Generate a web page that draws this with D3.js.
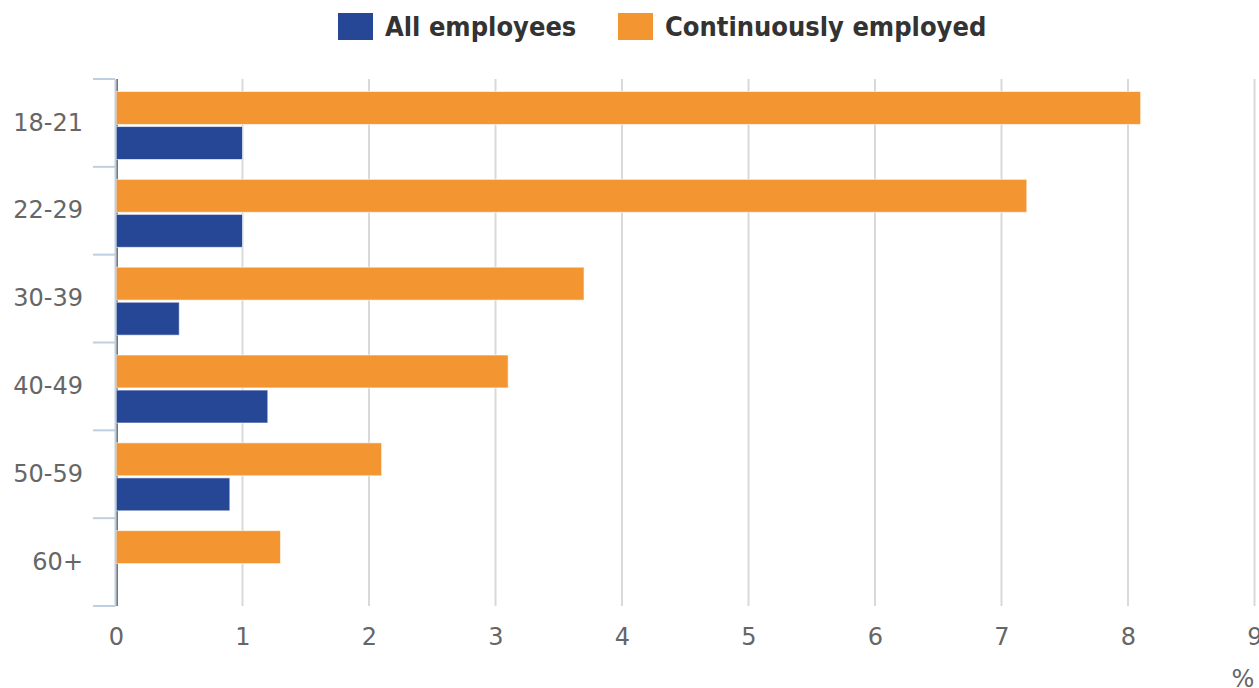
<!DOCTYPE html>
<html>
<head>
<meta charset="utf-8">
<script src="https://cdn.jsdelivr.net/npm/d3@7"></script>
<style>
  html, body { margin: 0; padding: 0; background: #fff; }
  svg { display: block; }
</style>
</head>
<body>
<svg id="chart" width="1259" height="688"></svg>
<script>
// Age groups and percentages per series
const categories = ["18-21", "22-29", "30-39", "40-49", "50-59", "60+"];
const seriesNames = ["Continuously employed", "All employees"];
const continuouslyEmployed = [8.1, 7.2, 3.7, 3.1, 2.1, 1.3];
const allEmployees = [1.0, 1.0, 0.5, 1.2, 0.9, 0];
const xTicks = [0, 1, 2, 3, 4, 5, 6, 7, 8, 9];
const legendItems = ["All employees", "Continuously employed"];

const colors = { "All employees": "#264796", "Continuously employed": "#F39530" };

const svg = d3.select("#chart");
const margin = { top: 79, right: 4, bottom: 82, left: 115 };
const W = 1259, H = 688;
const innerH = H - margin.top - margin.bottom;

const x = d3.scaleLinear().domain([0, 9]).range([margin.left + 1, margin.left + 1 + 126.5 * 9]);
const y = d3.scaleBand().domain(categories).range([margin.top, margin.top + innerH]).paddingInner(0).paddingOuter(0);
const yInner = d3.scaleBand().domain(seriesNames).range([12.5, 80.5]).paddingInner(0.06);

// Vertical gridlines
const grid = svg.append("g");
grid.selectAll("line").data(xTicks.filter(d => d > 0)).join("line")
  .attr("x1", d => x(d)).attr("x2", d => x(d))
  .attr("y1", margin.top).attr("y2", margin.top + innerH)
  .attr("stroke", "#d9d9d9").attr("stroke-width", 2);

// Zero line
svg.append("line")
  .attr("x1", x(0) + 1).attr("x2", x(0) + 1)
  .attr("y1", margin.top).attr("y2", margin.top + innerH)
  .attr("stroke", "#777").attr("stroke-width", 2);

// Bars
const rows = categories.map((c, i) => ({
  cat: c,
  vals: [
    { s: "Continuously employed", v: continuouslyEmployed[i] },
    { s: "All employees", v: allEmployees[i] }
  ]
}));

const groups = svg.append("g").selectAll("g").data(rows).join("g")
  .attr("transform", d => `translate(0,${y(d.cat)})`);

groups.selectAll("rect").data(d => d.vals.filter(v => v.v > 0)).join("rect")
  .attr("x", x(0))
  .attr("y", d => yInner(d.s))
  .attr("width", d => x(d.v) - x(0))
  .attr("height", yInner.bandwidth())
  .attr("fill", d => colors[d.s])
  .attr("stroke", "#fff")
  .attr("stroke-opacity", 0.6)
  .attr("stroke-width", 1);

// Y axis
const yAxis = d3.axisLeft(y).tickSize(0).tickPadding(32);
const yG = svg.append("g").attr("transform", `translate(${margin.left},0)`).call(yAxis);
yG.select(".domain").attr("stroke", "#c0cfe0").attr("stroke-width", 2);
yG.selectAll("text").attr("font-family", "DejaVu Sans, sans-serif").attr("font-size", 24).attr("fill", "#666");
// Category boundary ticks
const bounds = categories.map(c => y(c)).concat([margin.top + innerH]);
svg.append("g").selectAll("line").data(bounds).join("line")
  .attr("x1", margin.left - 22).attr("x2", margin.left)
  .attr("y1", d => d).attr("y2", d => d)
  .attr("stroke", "#c0cfe0").attr("stroke-width", 2);

// X axis labels
const xAxis = d3.axisBottom(x).tickValues(xTicks).tickSize(0).tickPadding(22).tickFormat(d3.format("d"));
const xG = svg.append("g").attr("transform", `translate(0,${margin.top + innerH})`).call(xAxis);
xG.select(".domain").remove();
xG.selectAll("text").attr("font-family", "DejaVu Sans, sans-serif").attr("font-size", 24).attr("fill", "#666");

svg.append("text")
  .attr("x", 1243).attr("y", 687)
  .attr("text-anchor", "middle")
  .attr("font-family", "DejaVu Sans, sans-serif").attr("font-size", 24).attr("fill", "#666")
  .text("%");

// Legend
const legend = svg.append("g");
const legendPos = [338, 618];
legendItems.forEach((name, i) => {
  const g = legend.append("g").attr("transform", `translate(${legendPos[i]},13)`);
  g.append("rect").attr("width", 35).attr("height", 27).attr("fill", colors[name]);
  g.append("text").attr("x", 47).attr("y", 23)
    .attr("font-family", "DejaVu Sans Condensed, DejaVu Sans, sans-serif")
    .attr("font-weight", "bold").attr("font-size", 27).attr("fill", "#333")
    .text(name);
});
</script>
</body>
</html>
